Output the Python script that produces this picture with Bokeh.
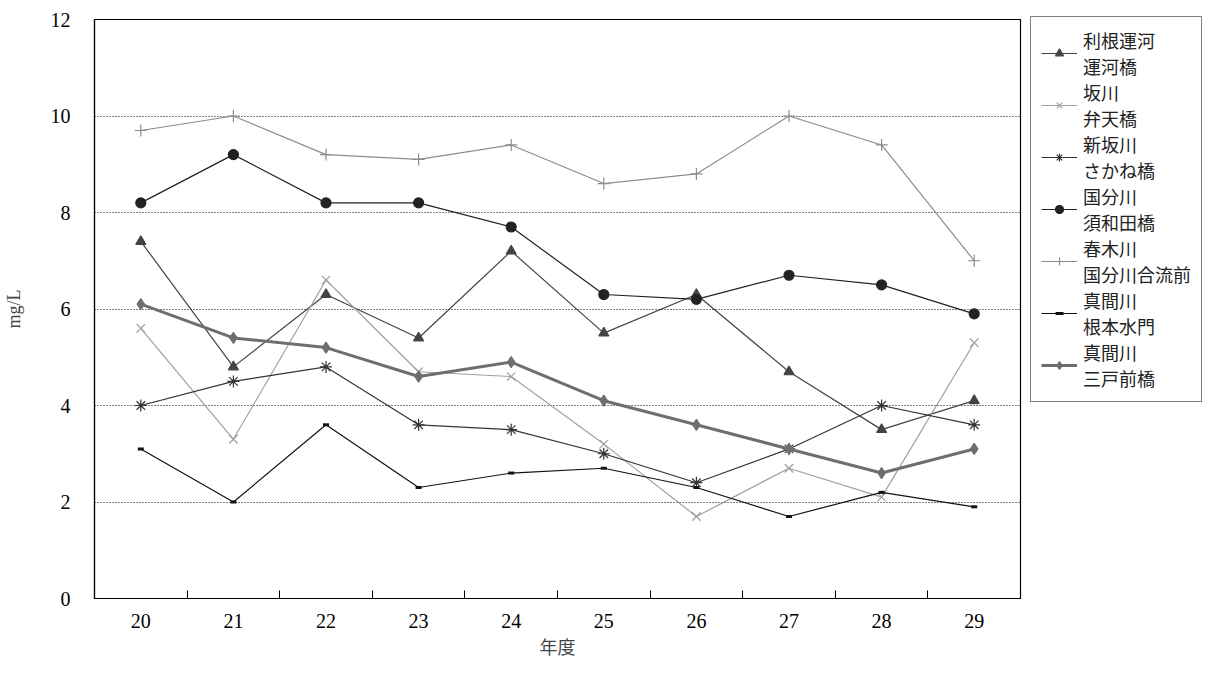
from bokeh.plotting import figure
from bokeh.models import Legend, LegendItem, FixedTicker, Range1d
from bokeh.embed import file_html
from bokeh.resources import INLINE

years = [20, 21, 22, 23, 24, 25, 26, 27, 28, 29]

tone_unga = [7.4, 4.8, 6.3, 5.4, 7.2, 5.5, 6.3, 4.7, 3.5, 4.1]
sakagawa = [5.6, 3.3, 6.6, 4.7, 4.6, 3.2, 1.7, 2.7, 2.1, 5.3]
shin_sakagawa = [4.0, 4.5, 4.8, 3.6, 3.5, 3.0, 2.4, 3.1, 4.0, 3.6]
kokubun = [8.2, 9.2, 8.2, 8.2, 7.7, 6.3, 6.2, 6.7, 6.5, 5.9]
haruki = [9.7, 10.0, 9.2, 9.1, 9.4, 8.6, 8.8, 10.0, 9.4, 7.0]
mama_nemoto = [3.1, 2.0, 3.6, 2.3, 2.6, 2.7, 2.3, 1.7, 2.2, 1.9]
mama_sando = [6.1, 5.4, 5.2, 4.6, 4.9, 4.1, 3.6, 3.1, 2.6, 3.1]

# label, values, colour, marker, marker size, line width, marker line width
series = [
    ("利根運河\n運河橋", tone_unga, "#444444", "triangle", 10, 1.2, 1.2),
    ("坂川\n弁天橋", sakagawa, "#a0a0a0", "x", 12, 1.2, 1.2),
    ("新坂川\nさかね橋", shin_sakagawa, "#333333", "asterisk", 12, 1.2, 1.2),
    ("国分川\n須和田橋", kokubun, "#222222", "circle", 10, 1.2, 1.2),
    ("春木川\n国分川合流前", haruki, "#8c8c8c", "cross", 12, 1.2, 1.2),
    ("真間川\n根本水門", mama_nemoto, "#111111", "dash", 6, 1.2, 3),
    ("真間川\n三戸前橋", mama_sando, "#6e6e6e", "diamond", 11, 3, 1.2),
]

serif = "Liberation Serif"
jp = "Noto Sans CJK JP"

p = figure(frame_width=926, frame_height=579, output_backend="svg",
           toolbar_location=None,
           x_range=Range1d(19.5, 29.5), y_range=Range1d(0, 12))
p.min_border_left = 92
p.min_border_right = 0
p.min_border_top = 19
p.min_border_bottom = 68
p.outline_line_color = "black"
p.outline_line_width = 1.2

items = []
for name, vals, color, marker, size, lw, mlw in series:
    r1 = p.line(years, vals, line_color=color, line_width=lw)
    r2 = p.scatter(years, vals, marker=marker, size=size, line_color=color,
                   fill_color=color, line_width=mlw)
    items.append(LegendItem(label=name, renderers=[r1, r2]))

p.xaxis.ticker = FixedTicker(ticks=years,
                             minor_ticks=[y + 0.5 for y in years[:-1]])
p.xaxis.major_tick_line_color = None
p.xaxis.minor_tick_in = 8
p.xaxis.minor_tick_out = 0
p.xaxis.minor_tick_line_color = "black"
p.xaxis.axis_line_color = "black"
p.xaxis.axis_line_width = 1.2
p.xaxis.major_label_text_font = serif
p.xaxis.major_label_text_font_size = "20px"
p.xaxis.major_label_text_color = "black"
p.xaxis.major_label_standoff = 9
p.xaxis.axis_label = "年度"
p.xaxis.axis_label_text_font = jp
p.xaxis.axis_label_text_font_style = "normal"
p.xaxis.axis_label_text_font_size = "18px"
p.xaxis.axis_label_standoff = 2

p.yaxis.ticker = FixedTicker(ticks=[0, 2, 4, 6, 8, 10, 12])
p.yaxis.major_tick_line_color = None
p.yaxis.minor_tick_line_color = None
p.yaxis.axis_line_color = "black"
p.yaxis.axis_line_width = 1.2
p.yaxis.major_label_text_font = serif
p.yaxis.major_label_text_font_size = "20px"
p.yaxis.major_label_text_color = "black"
p.yaxis.major_label_standoff = 18
p.yaxis.axis_label = "mg/L"
p.yaxis.axis_label_text_font = serif
p.yaxis.axis_label_text_font_style = "normal"
p.yaxis.axis_label_text_font_size = "18px"
p.yaxis.axis_label_standoff = 24

p.xgrid.grid_line_color = None
p.ygrid.ticker = FixedTicker(ticks=[2, 4, 6, 8, 10])
p.ygrid.grid_line_color = "black"
p.ygrid.grid_line_dash = "1 2"
p.ygrid.grid_line_width = 1

legend = Legend(items=items, location=(10, 196))
legend.label_text_font = jp
legend.label_text_font_size = "18px"
legend.label_text_color = "#222222"
legend.border_line_color = "black"
legend.border_line_width = 1.2
legend.glyph_width = 36
legend.spacing = 0
legend.padding = 10
legend.margin = 10
legend.label_standoff = 6
p.add_layout(legend, "right")

open("out.html", "w").write(file_html(p, INLINE))
